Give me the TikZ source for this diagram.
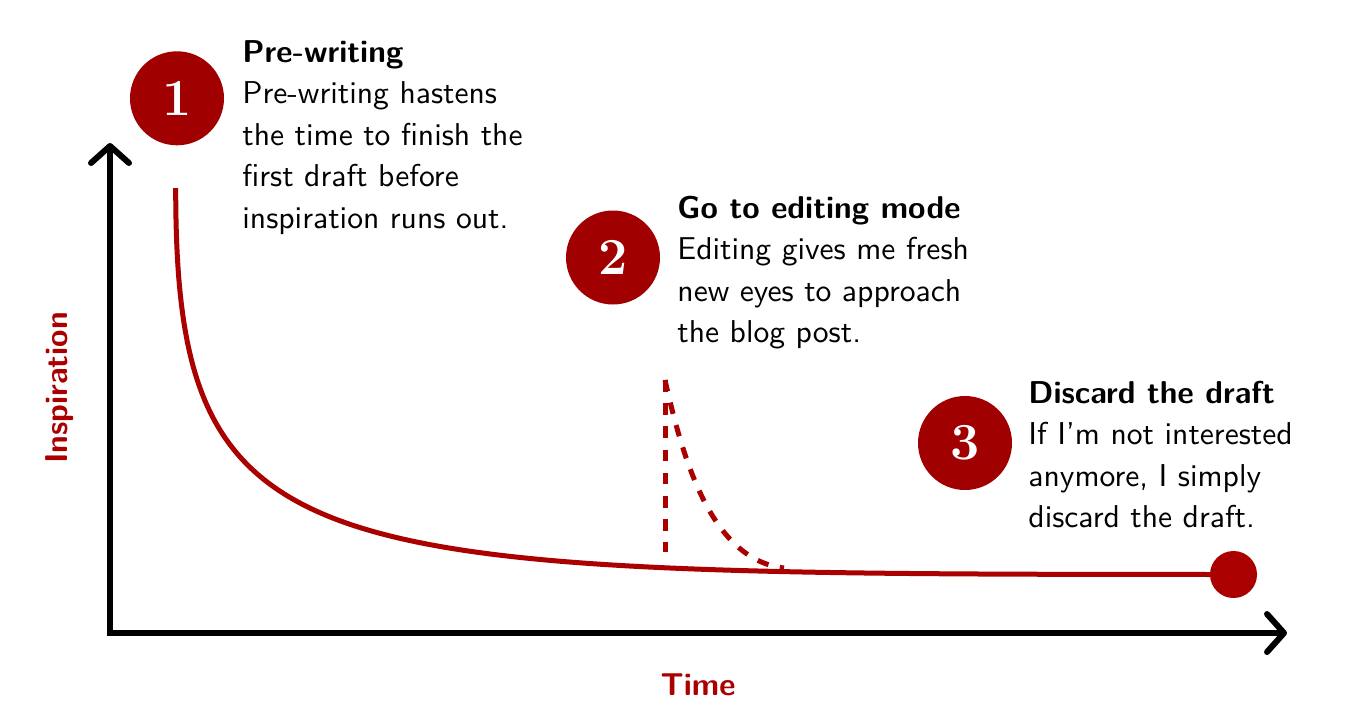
\documentclass[tikz,border=0pt]{standalone}
\usepackage{fontspec}
\setmainfont{Latin Modern Roman}
\setsansfont{lmsans10-regular.otf}[BoldFont=lmsans10-bold.otf]
\usetikzlibrary{arrows.meta}
\definecolor{dred}{RGB}{160,0,0}
\definecolor{cred}{RGB}{170,0,0}
\tikzset{
  numcirc/.style={circle, fill=dred, minimum size=47pt, inner sep=0pt, text=white,
    font=\rmfamily\bfseries\fontsize{26}{26}\selectfont},
  blocktext/.style={anchor=base west, align=left, inner sep=0pt,
    font=\sffamily\fontsize{15.8}{20.8}\selectfont},
  axislabel/.style={text=cred, inner sep=0pt, font=\sffamily\bfseries\fontsize{15.8}{18}\selectfont},
  axisline/.style={line width=3pt, black,
    {Straight Barb[length=8.5pt,width=19pt,round]}-{Straight Barb[length=8.5pt,width=19pt,round]}},
  mcurve/.style={line width=2.5pt, cred},
  dcurve/.style={line width=2.5pt, cred, dash pattern=on 5.8pt off 5.8pt},
  enddot/.style={circle, fill=cred, minimum size=23.5pt, inner sep=0pt},
}
\begin{document}
\begin{tikzpicture}[x=0.5pt,y=-0.5pt]
\useasboundingbox (0,0) rectangle (1352,724);
% axes
\coordinate (ytip) at (110,143);
\coordinate (O) at (110,633);
\coordinate (xtip) at (1287,633);
\draw[axisline] (ytip) -- (O) -- (xtip);
\node[axislabel, rotate=90] (ylab) at (60,388) {Inspiration};
\node[axislabel] (xlab) at (698,684.5) {Time};
% main curve
\coordinate (cstart) at (175.7,188);
\node[enddot] (dot) at (1233.5,574.5) {};
\draw[mcurve] (cstart) .. controls (175.7,574) and (300,574) .. (dot.center);
% dashed editing curve
\coordinate (dtop) at (665,380);
\coordinate (dbot) at (665,552);
\coordinate (dend) at (784,568);
\draw[dcurve] (dtop) -- (dbot);
\draw[dcurve] (dtop) .. controls (685,470) and (715,560) .. (dend);
% numbered circles
\node[numcirc] (c1) at (177,98.3) {1};
\node[numcirc] (c2) at (613,257.5) {2};
\node[numcirc] (c3) at (965,443) {3};
% text blocks
\node[blocktext] (t1) at (242,228.4) {\textbf{Pre-writing}\\Pre-writing hastens\\the time to finish the\\first draft before\\inspiration runs out.};
\node[blocktext] (t2) at (677,342.8) {\textbf{Go to editing mode}\\Editing gives me fresh\\new eyes to approach\\the blog post.};
\node[blocktext] (t3) at (1028,527.8) {\textbf{Discard the draft}\\If I'm not interested\\anymore, I simply\\discard the draft.};
\end{tikzpicture}
\end{document}
